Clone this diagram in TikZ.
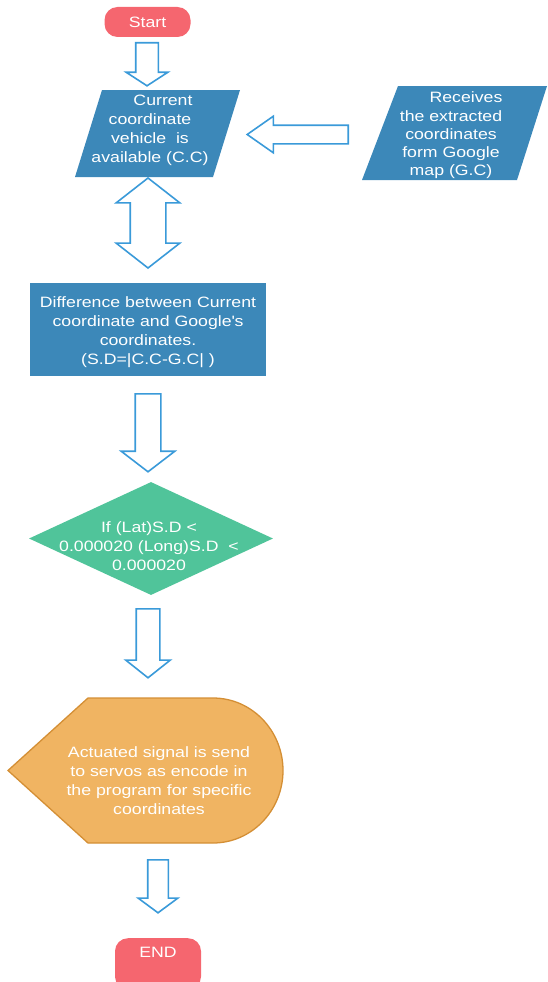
\documentclass[tikz,border=0pt]{standalone}
\usepackage{fontspec}
\setmainfont{Liberation Sans}[FakeStretch=1.18]
\usetikzlibrary{shapes.geometric,shapes.arrows}
\definecolor{boxblue}{HTML}{3C88B9}
\definecolor{arrblue}{HTML}{3A9AD9}
\definecolor{termred}{HTML}{F5666F}
\definecolor{decgreen}{HTML}{50C49A}
\definecolor{actfill}{HTML}{F0B462}
\definecolor{actline}{HTML}{D48F35}

\begin{document}
\begin{tikzpicture}[x=1pt, y=1pt, font=\fontsize{15}{19}\selectfont,
  txt/.style={text=white, align=center, inner sep=0pt},
  term/.style={txt, fill=termred, rounded corners=13pt, minimum width=86, minimum height=30},
  para/.style={fill=boxblue},
  proc/.style={fill=boxblue, minimum width=236, minimum height=93},
  dec/.style={diamond, fill=decgreen, inner sep=0pt, minimum width=244, minimum height=113},
  act/.style={fill=actfill, draw=actline, line width=1.3pt},
  arr/.style={single arrow, draw=arrblue, fill=white, line width=1.6pt, anchor=tail},
  down/.style={arr, rotate=-90}]
  \useasboundingbox (0,0) rectangle (548,-982);

  \node[term] (start) at (147.5,-22) {Start};
  \node[down, minimum height=43, inner sep=10.5pt, single arrow head extend=9.5pt,
    single arrow tip angle=114] (a1) at (147,-42) {};

  \fill[para] (102,-90) -- (240,-90) -- (213,-177) -- (75,-177) -- cycle;
  \node[txt] (cc) at (150,-130.5) {\hspace*{26pt}Current\\coordinate\\vehicle\ \ is\\available (C.C)};

  \fill[para] (398,-86) -- (547,-86) -- (517,-180) -- (362,-180) -- cycle;
  \node[txt, font=\fontsize{15}{18.3}\selectfont] (gc) at (451,-135.5) {\hspace*{30pt}Receives\\the extracted\\coordinates\\form Google\\map (G.C)};
  \node[arr, rotate=180, minimum height=101, inner sep=8.5pt, single arrow head extend=9pt,
    single arrow tip angle=70] (a0) at (349,-134.5) {};

  \node[double arrow, draw=arrblue, fill=white, line width=1.6pt, rotate=90, minimum height=90,
    inner sep=17pt, double arrow head extend=14pt, double arrow tip angle=104] (a2) at (148,-223) {};

  \node[proc] (diff) at (148,-329.5) {};
  \node[txt] (difftxt) at (148,-332.5) {Difference between Current\\coordinate and Google\textquotesingle s\\coordinates.\\(S.D=|C.C-G.C| )};
  \node[down, minimum height=78, inner sep=12pt, single arrow head extend=14pt,
    single arrow tip angle=105] (a3) at (148,-393) {};

  \node[dec] (if) at (151,-538.5) {};
  \node[txt] (iftxt) at (149,-546.5) {If (Lat)S.D <\\0.000020 (Long)S.D\ \ <\\0.000020};
  \node[down, minimum height=69, inner sep=11pt, single arrow head extend=10.5pt,
    single arrow tip angle=103] (a4) at (148,-608) {};

  \draw[act] (88,-698) -- (213,-698) arc[start angle=90, end angle=-90, x radius=70, y radius=72.5]
    -- (88,-843) -- (8,-770.5) -- cycle;
  \node[txt] (act) at (159,-781) {Actuated signal is send\\to servos as encode in\\the program for specific\\coordinates};
  \node[down, minimum height=53, inner sep=9.5pt, single arrow head extend=9.5pt,
    single arrow tip angle=107] (a5) at (158,-859) {};

  \node[term, anchor=north, inner ysep=9pt, text depth=23pt] (end) at (158,-938) {END};
\end{tikzpicture}
\end{document}
